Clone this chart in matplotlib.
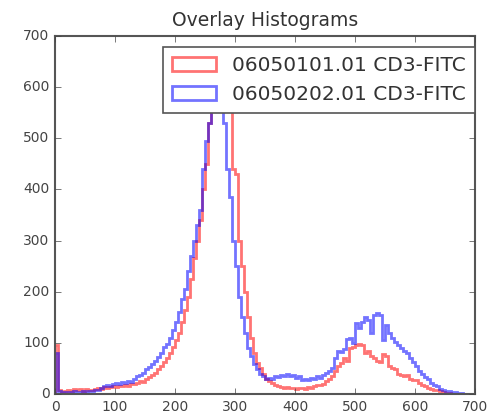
import numpy as np
import matplotlib
matplotlib.use("Agg")
import matplotlib.pyplot as plt

plt.style.use("classic")

bin_width = 5
bin_starts = np.arange(0, 690, bin_width)

red_counts = [
    95, 8, 4, 5, 8, 6, 10, 7, 9, 6,
    10, 8, 7, 9, 12, 10, 14, 12, 13, 15,
    14, 16, 15, 18, 16, 20, 19, 22, 25, 24,
    30, 33, 38, 42, 48, 55, 62, 70, 80, 92,
    105, 120, 140, 165, 190, 225, 265, 300, 340, 400,
    450, 530, 600, 640, 620, 660, 600, 590, 570, 440,
    430, 300, 250, 200, 150, 110, 80, 60, 50, 40,
    30, 25, 22, 18, 15, 14, 12, 13, 11, 12,
    10, 11, 12, 10, 13, 12, 15, 18, 17, 20,
    25, 30, 35, 45, 55, 60, 70, 65, 90, 92,
    95, 98, 96, 80, 85, 75, 70, 65, 62, 78,
    75, 55, 50, 48, 40, 38, 35, 37, 30, 28,
    27, 22, 18, 15, 12, 10, 8, 7, 5, 3,
    2, 1, 0, 0, 0, 0, 0, 0,
]

blue_counts = [
    80, 6, 3, 3, 4, 3, 5, 4, 3, 5,
    4, 6, 5, 7, 8, 12, 15, 18, 16, 20,
    22, 20, 23, 22, 25, 24, 30, 35, 38, 42,
    48, 52, 58, 65, 72, 80, 92, 98, 110, 125,
    140, 160, 185, 205, 240, 270, 300, 330, 360, 440,
    495, 530, 610, 580, 650, 590, 530, 440, 385, 300,
    250, 190, 150, 120, 90, 75, 58, 48, 40, 35,
    30, 32, 30, 35, 33, 38, 35, 40, 36, 38,
    32, 35, 28, 30, 27, 32, 30, 35, 32, 38,
    42, 45, 50, 70, 85, 82, 88, 108, 110, 100,
    138, 130, 140, 150, 145, 120, 155, 158, 155, 105,
    135, 120, 110, 102, 95, 90, 85, 80, 70, 62,
    55, 45, 40, 33, 30, 22, 18, 15, 10, 8,
    6, 5, 4, 3, 2, 1, 0, 0,
]

labels = ["06050101.01 CD3-FITC", "06050202.01 CD3-FITC"]
colors = ["red", "blue"]
series = [red_counts, blue_counts]

x_ticks = [0, 100, 200, 300, 400, 500, 600, 700]
y_ticks = [0, 100, 200, 300, 400, 500, 600, 700]

fig = plt.figure(figsize=(4.9, 4.15), dpi=100, facecolor="white")
ax = fig.add_axes([55 / 490, 1 - 394 / 415, 420 / 490, 358 / 415])

edges = np.append(bin_starts, bin_starts[-1] + bin_width)
for counts, color, label in zip(series, colors, labels):
    ax.hist(bin_starts, bins=edges, weights=counts, histtype="step",
            color=color, alpha=0.55, linewidth=2, label=label)

ax.set_xlim(0, 700)
ax.set_ylim(0, 700)
ax.set_xticks(x_ticks)
ax.set_yticks(y_ticks)
ax.tick_params(labelsize=10, colors="#444444", labelcolor="#444444")
for s in ax.spines.values():
    s.set_color("#555555")
    s.set_linewidth(1.5)
ax.set_title("Overlay Histograms", fontsize=13.5, color="#333333", pad=7)

leg = ax.legend(loc="upper right", bbox_to_anchor=(1.0, (394 - 47) / 358),
                borderaxespad=0, fontsize=14.5, handlelength=2.2,
                handletextpad=0.8, borderpad=0.45, frameon=True)
leg.get_frame().set_edgecolor("#555555")
leg.get_frame().set_linewidth(1.2)
for t in leg.get_texts():
    t.set_color("#333333")

fig.savefig("out.png", dpi=100, facecolor="white")
